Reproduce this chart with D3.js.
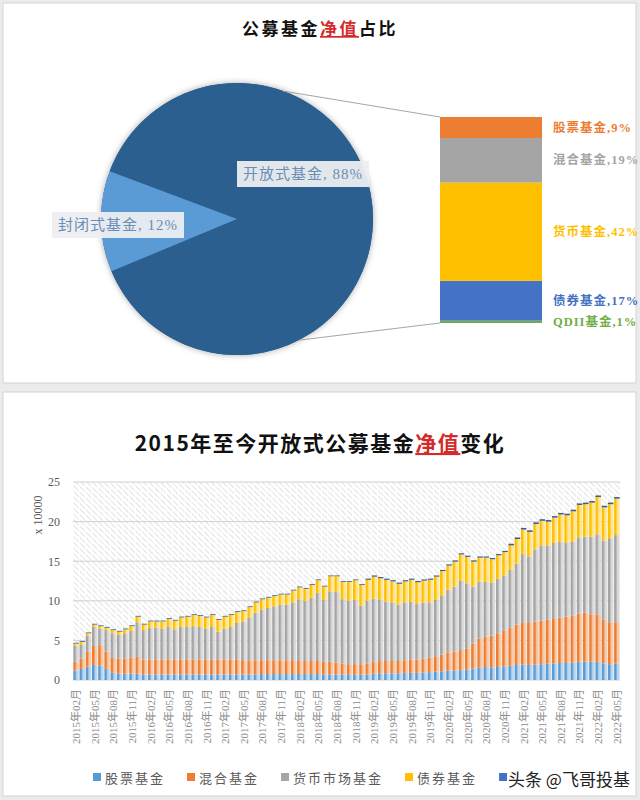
<!DOCTYPE html>
<html><head><meta charset="utf-8">
<script src="https://cdn.jsdelivr.net/npm/d3@7"></script>
<style>body{margin:0;background:#ebebeb;} svg{display:block}</style>
</head><body><svg id="c" width="640" height="800"></svg>
<script>
// ---------- data: top (pie + bar of pie) ----------
const pieCats = ["开放式基金", "封闭式基金"];
const pieVals = [88, 12];
const subCats = ["股票基金", "混合基金", "货币基金", "债券基金", "QDII基金"];
const subVals = [9, 19, 42, 17, 1];

// ---------- data: bottom (monthly stacked bars, x 10000) ----------
const months = ["2015-02","2015-03","2015-04","2015-05","2015-06","2015-07","2015-08","2015-09","2015-10","2015-11","2015-12",
"2016-01","2016-02","2016-03","2016-04","2016-05","2016-06","2016-07","2016-08","2016-09","2016-10","2016-11","2016-12",
"2017-01","2017-02","2017-03","2017-04","2017-05","2017-06","2017-07","2017-08","2017-09","2017-10","2017-11","2017-12",
"2018-01","2018-02","2018-03","2018-04","2018-05","2018-06","2018-07","2018-08","2018-09","2018-10","2018-11","2018-12",
"2019-01","2019-02","2019-03","2019-04","2019-05","2019-06","2019-07","2019-08","2019-09","2019-10","2019-11","2019-12",
"2020-01","2020-02","2020-03","2020-04","2020-05","2020-06","2020-07","2020-08","2020-09","2020-10","2020-11","2020-12",
"2021-01","2021-02","2021-03","2021-04","2021-05","2021-06","2021-07","2021-08","2021-09","2021-10","2021-11","2021-12",
"2022-01","2022-02","2022-03","2022-04","2022-05"];
const seriesNames = ["股票基金", "混合基金", "货币市场基金", "债券基金", "QDII基金"];
const stock = [1.2,1.4,1.7,1.9,1.8,1.4,0.9,0.8,0.8,0.8,0.8,
0.7,0.7,0.7,0.7,0.7,0.7,0.7,0.7,0.7,0.7,0.7,0.7,
0.7,0.7,0.7,0.7,0.7,0.7,0.7,0.75,0.75,0.75,0.75,0.75,
0.75,0.75,0.75,0.75,0.75,0.7,0.7,0.7,0.7,0.65,0.65,0.65,
0.7,0.8,0.85,0.85,0.85,0.85,0.9,0.9,0.9,0.95,1.0,1.05,
1.1,1.2,1.2,1.25,1.3,1.45,1.6,1.65,1.6,1.65,1.7,1.8,
1.9,1.95,1.9,1.95,2.0,2.05,2.1,2.15,2.15,2.2,2.3,2.35,
2.3,2.3,2.1,2.0,2.1];
const hybrid = [1.1,1.3,1.9,2.4,2.6,2.2,1.9,1.9,1.9,2.0,2.1,
1.9,1.9,1.9,1.9,1.9,1.9,1.9,1.9,1.9,1.9,1.9,1.9,
1.9,1.9,1.9,1.9,1.8,1.8,1.8,1.75,1.75,1.75,1.75,1.75,
1.75,1.65,1.65,1.65,1.65,1.6,1.6,1.5,1.4,1.35,1.35,1.35,
1.4,1.5,1.55,1.55,1.55,1.55,1.6,1.7,1.7,1.75,1.8,1.95,
2.1,2.3,2.4,2.55,2.7,3.15,3.6,3.85,4.0,4.25,4.5,4.8,
5.1,5.25,5.3,5.45,5.5,5.55,5.6,5.75,5.85,5.9,6.1,6.15,
6.0,6.0,5.5,5.2,5.2];
const money = [2.0,1.8,2.0,2.4,2.1,2.7,3.1,3.0,3.2,3.4,4.4,
3.7,4.0,4.0,3.9,4.1,3.8,4.1,4.1,4.2,4.1,3.9,4.1,
3.5,3.9,4.1,4.6,4.9,5.4,6.0,6.4,6.6,6.8,7.0,7.0,
7.3,7.8,7.6,8.0,8.6,7.8,8.9,8.9,8.1,8.0,8.1,7.4,
7.9,8.0,7.7,7.5,7.4,7.1,7.3,7.3,7.0,7.1,7.0,7.1,
7.5,7.9,8.2,8.7,8.2,7.2,7.2,6.9,6.7,6.9,7.0,7.3,
7.7,8.7,8.4,9.1,9.5,9.4,9.6,9.6,9.3,9.4,9.6,9.6,
9.8,10.1,10.0,10.7,11.0];
const bond = [0.3,0.3,0.3,0.3,0.3,0.3,0.4,0.4,0.5,0.6,0.7,
0.7,0.8,0.8,0.9,1.0,1.1,1.2,1.3,1.4,1.4,1.4,1.5,
1.5,1.5,1.5,1.4,1.3,1.3,1.3,1.3,1.3,1.3,1.3,1.3,
1.5,1.5,1.5,1.6,1.6,1.7,1.9,2.0,2.2,2.4,2.5,2.6,
2.65,2.75,2.75,2.75,2.65,2.65,2.65,2.75,2.75,2.75,2.85,2.95,
3.05,3.05,3.15,3.35,3.35,3.15,3.05,3.05,2.95,2.95,2.95,3.1,
3.1,3.1,3.1,3.2,3.1,3.0,3.2,3.4,3.5,3.8,4.1,4.1,
4.3,4.7,4.2,4.3,4.6];
const qdii = [0.1,0.1,0.1,0.1,0.1,0.1,0.1,0.1,0.1,0.1,0.1,
0.1,0.1,0.1,0.1,0.1,0.1,0.1,0.1,0.1,0.1,0.1,0.1,
0.1,0.1,0.1,0.1,0.1,0.1,0.1,0.1,0.1,0.1,0.1,0.1,
0.1,0.1,0.1,0.1,0.1,0.1,0.1,0.1,0.1,0.1,0.1,0.1,
0.15,0.15,0.15,0.15,0.15,0.15,0.15,0.15,0.15,0.15,0.15,0.15,
0.15,0.15,0.15,0.15,0.15,0.15,0.15,0.15,0.15,0.15,0.15,0.2,
0.2,0.2,0.2,0.2,0.2,0.2,0.2,0.2,0.2,0.2,0.2,0.2,
0.2,0.2,0.2,0.2,0.2];
const yTicks = [0, 5, 10, 15, 20, 25];
const xTickLabels = months.filter((d, i) => i % 3 === 0);

// ---------- styles ----------
const serif = "'Liberation Serif','Noto Sans CJK SC',serif";
const cjk = "'Noto Sans CJK SC','Liberation Serif',sans-serif";
const pieColors = ["#2b5f8f", "#5b9bd5"];
const subColors = ["#ed7d31", "#a5a5a5", "#ffc000", "#4472c4", "#70ad47"];
const serColors = ["#5b9bd5", "#ed7d31", "#a5a5a5", "#ffc000", "#4472c4"];

const svg = d3.select("#c");
const defs = svg.append("defs");

// panels
svg.append("rect").attr("x", 3).attr("y", 3).attr("width", 633).attr("height", 380)
  .attr("fill", "#fff").attr("stroke", "#d4d4d4");
svg.append("rect").attr("x", 3).attr("y", 392).attr("width", 633).attr("height", 404)
  .attr("fill", "#fff").attr("stroke", "#d4d4d4");

function title(x, y, parts, size, ls) {
  const t = svg.append("text").attr("x", x).attr("y", y).attr("text-anchor", "middle")
    .attr("font-family", cjk).attr("font-weight", 600).attr("font-size", size)
    .attr("letter-spacing", ls);
  parts.forEach(p => {
    const s = t.append("tspan").text(p[0]).attr("fill", p[1] ? "#d42a2a" : "#111");
    if (p[1]) s.attr("text-decoration", "underline");
  });
}
title(320, 35, [["公募基金", 0], ["净值", 1], ["占比", 0]], 17, 2.5);
title(320, 451, [["2015年至今开放式公募基金", 0], ["净值", 1], ["变化", 0]], 21, 1.5);

// ---------- pie ----------
const cx = 237, cy = 219, R = 136;
const shadow = defs.append("filter").attr("id", "sh").attr("x", "-20%").attr("y", "-20%")
  .attr("width", "140%").attr("height", "140%");
shadow.append("feDropShadow").attr("dx", 0).attr("dy", 0).attr("stdDeviation", 3)
  .attr("flood-color", "#000").attr("flood-opacity", 0.35);

const start = -69.4 * Math.PI / 180;
const pie = d3.pie().sort(null).startAngle(start).endAngle(start + 2 * Math.PI);
const arcs = pie(pieVals);
const arc = d3.arc().innerRadius(0).outerRadius(R);
const pg = svg.append("g").attr("transform", `translate(${cx},${cy})`);
pg.append("circle").attr("r", R).attr("fill", pieColors[0]).attr("filter", "url(#sh)");
pg.selectAll("path").data(arcs).join("path").attr("d", arc)
  .attr("fill", (d, i) => pieColors[i]);

// connector lines
const a1 = 19.8 * Math.PI / 180, a2 = 153 * Math.PI / 180;
const barX = 440, barW = 102;
const ySub = d3.scaleLinear().domain([0, d3.sum(subVals)]).range([323, 117]);
svg.append("line").attr("x1", cx + R * Math.sin(a1)).attr("y1", cy - R * Math.cos(a1))
  .attr("x2", barX).attr("y2", ySub(d3.sum(subVals))).attr("stroke", "#a6a6a6").attr("stroke-width", 1);
svg.append("line").attr("x1", cx + R * Math.sin(a2)).attr("y1", cy - R * Math.cos(a2))
  .attr("x2", barX).attr("y2", ySub(0)).attr("stroke", "#a6a6a6").attr("stroke-width", 1);

// pie labels
const pieLabelPos = [[303, 174], [118, 225]];
pieCats.forEach((c, i) => {
  const g = svg.append("g");
  const t = g.append("text").attr("x", pieLabelPos[i][0]).attr("y", pieLabelPos[i][1])
    .attr("text-anchor", "middle").attr("dominant-baseline", "central")
    .attr("font-family", serif).attr("font-size", 15).attr("letter-spacing", 1)
    .attr("fill", "#6a8db5").text(`${c}, ${pieVals[i]}%`);
  const bb = t.node().getBBox();
  g.insert("rect", "text").attr("x", bb.x - 6).attr("y", bb.y - 5)
    .attr("width", bb.width + 12).attr("height", bb.height + 10)
    .attr("fill", "#eceef1").attr("opacity", 0.95);
});

// bar of pie (stack bottom: QDII -> 债券 -> 货币 -> 混合 -> 股票 top)
let acc = 0;
const segs = [];
for (let i = subVals.length - 1; i >= 0; i--) {
  segs.push({ i, y0: acc, y1: acc + subVals[i] });
  acc += subVals[i];
}
svg.append("g").selectAll("rect").data(segs).join("rect")
  .attr("x", barX).attr("width", barW)
  .attr("y", d => ySub(d.y1)).attr("height", d => ySub(d.y0) - ySub(d.y1))
  .attr("fill", d => subColors[d.i]);
svg.append("g").selectAll("text").data(segs).join("text")
  .attr("x", 553).attr("y", d => (ySub(d.y0) + ySub(d.y1)) / 2)
  .attr("dominant-baseline", "central")
  .attr("font-family", serif).attr("font-size", 12.5).attr("font-weight", "bold")
  .attr("letter-spacing", 1)
  .attr("fill", d => subColors[d.i])
  .text(d => `${subCats[d.i]},${subVals[d.i]}%`);

// ---------- bottom stacked bar chart ----------
const L = 73, Rt = 620, T = 482, B = 680;
const x = d3.scaleBand().domain(months).range([L, Rt]).paddingInner(0.1).paddingOuter(0.05);
const y = d3.scaleLinear().domain([0, 25]).range([B, T]);

const pat = defs.append("pattern").attr("id", "hatch").attr("patternUnits", "userSpaceOnUse")
  .attr("width", 4).attr("height", 4).attr("patternTransform", "rotate(-45)");
pat.append("rect").attr("width", 4).attr("height", 4).attr("fill", "#fff");
pat.append("line").attr("x1", 0).attr("y1", 0).attr("x2", 0).attr("y2", 4)
  .attr("stroke", "#d6d6d6").attr("stroke-width", 1.4);

svg.append("rect").attr("x", L).attr("y", T).attr("width", Rt - L).attr("height", B - T)
  .attr("fill", "url(#hatch)");
// white column separators
svg.append("g").selectAll("line").data(months).join("line")
  .attr("x1", d => x(d) - x.step() * 0.05).attr("x2", d => x(d) - x.step() * 0.05)
  .attr("y1", T).attr("y2", B).attr("stroke", "#fff").attr("stroke-width", 1);
// grid
svg.append("g").selectAll("line").data(yTicks).join("line")
  .attr("x1", L).attr("x2", Rt).attr("y1", d => y(d)).attr("y2", d => y(d))
  .attr("stroke", "#d0d0d0").attr("stroke-width", 1);

// gradients (saturated left edge fading to pale right)
serColors.forEach((c, i) => {
  const g = defs.append("linearGradient").attr("id", "g" + i)
    .attr("x1", 0).attr("x2", 1).attr("y1", 0).attr("y2", 0);
  g.append("stop").attr("offset", "0%").attr("stop-color", c);
  g.append("stop").attr("offset", "30%").attr("stop-color", c);
  g.append("stop").attr("offset", "60%").attr("stop-color", d3.interpolateRgb(c, "#fff")(0.55));
  g.append("stop").attr("offset", "100%").attr("stop-color", d3.interpolateRgb(c, "#fff")(0.65));
});

const table = months.map((m, i) => ({
  m, "股票基金": stock[i], "混合基金": hybrid[i], "货币市场基金": money[i],
  "债券基金": bond[i], "QDII基金": qdii[i]
}));
const stacked = d3.stack().keys(seriesNames)(table);
svg.append("g").selectAll("g").data(stacked).join("g")
  .attr("fill", (d, i) => i === 4 ? "#3b5f95" : `url(#g${i})`)
  .selectAll("rect").data(d => d).join("rect")
  .attr("x", d => x(d.data.m)).attr("width", x.bandwidth())
  .attr("y", d => y(d[1])).attr("height", d => y(d[0]) - y(d[1]));

// y axis
const yAx = svg.append("g").attr("transform", `translate(${L},0)`)
  .call(d3.axisLeft(y).tickValues(yTicks).tickSize(0).tickPadding(13));
yAx.select(".domain").remove();
yAx.selectAll("text").attr("font-family", serif).attr("font-size", 12).attr("fill", "#595959");
svg.append("text").attr("transform", "translate(38,515) rotate(-90)").attr("text-anchor", "middle")
  .attr("dominant-baseline", "central")
  .attr("font-family", serif).attr("font-size", 12).attr("fill", "#595959").text("x 10000");

// x axis
const xAx = svg.append("g").attr("transform", `translate(0,${B})`)
  .call(d3.axisBottom(x).tickValues(xTickLabels).tickSize(0)
    .tickFormat(d => d.slice(0, 4) + "年" + d.slice(5) + "月"));
xAx.select(".domain").remove();
xAx.selectAll("text").attr("font-family", serif).attr("font-size", 11).attr("fill", "#8c8c8c")
  .attr("text-anchor", "end").attr("dy", "0.35em")
  .attr("transform", "translate(0,9) rotate(-90)").attr("x", 0).attr("y", 0);

// legend
const lg = svg.append("g");
let lx = 93;
seriesNames.forEach((n, i) => {
  lg.append("rect").attr("x", lx).attr("y", 773).attr("width", 8).attr("height", 8)
    .attr("fill", serColors[i]);
  if (i < 4) {
    const t = lg.append("text").attr("x", lx + 12).attr("y", 777).attr("dominant-baseline", "central")
      .attr("font-family", cjk).attr("font-size", 13).attr("letter-spacing", 2)
      .attr("fill", "#595959").text(n);
    lx += 12 + t.node().getComputedTextLength() + 22;
  }
});
// watermark
svg.append("text").attr("x", 508).attr("y", 778).attr("dominant-baseline", "central")
  .attr("font-family", cjk).attr("font-size", 17).attr("fill", "#222")
  .attr("stroke", "#fff").attr("stroke-width", 3).attr("paint-order", "stroke")
  .text("头条 @飞哥投基");
</script></body></html>
